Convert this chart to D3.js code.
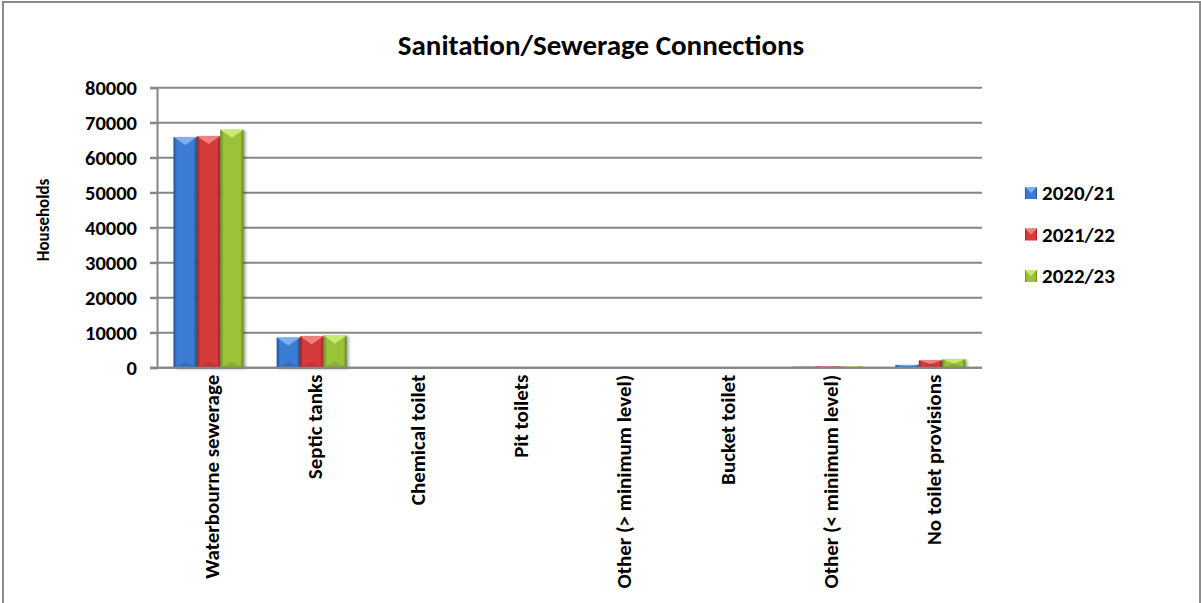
<!DOCTYPE html>
<html><head><meta charset="utf-8">
<script src="https://cdn.jsdelivr.net/npm/d3@7"></script>
<style>
html,body{margin:0;padding:0;background:#fff;}
svg{display:block;font-family:Carlito, Lato, "Liberation Sans", sans-serif;font-weight:bold;}
</style></head>
<body>
<svg id="chart" width="1201" height="603"></svg>
<script>
const categories = ["Waterbourne sewerage","Septic tanks","Chemical toilet","Pit toilets","Other (> minimum level)","Bucket toilet","Other (< minimum level)","No toilet provisions"];
const seriesNames = ["2020/21","2021/22","2022/23"];
const values2020 = [65900, 8600, 20, 0, 0, 80, 300, 800];
const values2021 = [66200, 9000, 20, 0, 0, 80, 400, 2100];
const values2022 = [68000, 9200, 20, 0, 0, 80, 400, 2400];
const yTicks = [0,10000,20000,30000,40000,50000,60000,70000,80000];
const colors = ["#3a7bd5","#d63b3b","#9bc23a"];
const darks = ["#23508f","#9a2424","#66861e"];
const lights = ["#86b6f0","#f28a8a","#cdee78"];

const seriesValues = [values2020, values2021, values2022];
const svg = d3.select("#chart");

// outer border
svg.append("rect").attr("x",3).attr("y",2).attr("width",1197).attr("height",610)
  .attr("fill","none").attr("stroke","#8c8c8c").attr("stroke-width",2);

const m = {left:157, right:982, top:87.7, bottom:367.7};
const x0 = d3.scaleBand().domain(categories).range([m.left,m.right]).paddingInner(0.32).paddingOuter(0.16);
const x1 = d3.scaleBand().domain(seriesNames).range([0,x0.bandwidth()]);
const y = d3.scaleLinear().domain([0,80000]).range([m.bottom,m.top]);

// gradients
const defs = svg.append("defs");
seriesNames.forEach((s,i)=>{
  const g = defs.append("linearGradient").attr("id","g"+i).attr("x1","0").attr("x2","1").attr("y1","0").attr("y2","0");
  g.append("stop").attr("offset","0%").attr("stop-color",darks[i]);
  g.append("stop").attr("offset","15%").attr("stop-color",colors[i]);
  g.append("stop").attr("offset","50%").attr("stop-color",colors[i]);
  g.append("stop").attr("offset","85%").attr("stop-color",colors[i]);
  g.append("stop").attr("offset","100%").attr("stop-color",darks[i]);
});
const sh = defs.append("filter").attr("id","shadow").attr("x","-20%").attr("y","-5%").attr("width","150%").attr("height","115%");
sh.append("feDropShadow").attr("dx",2).attr("dy",1).attr("stdDeviation",1.5).attr("flood-color","#000").attr("flood-opacity",0.35);

// gridlines
const grid = svg.append("g");
grid.selectAll("line").data(yTicks).join("line")
  .attr("x1",m.left-7).attr("x2",m.right).attr("y1",d=>y(d)).attr("y2",d=>y(d))
  .attr("stroke","#868686").attr("stroke-width",2);

// y axis
const yAxis = svg.append("g").attr("transform",`translate(${m.left},0)`)
  .call(d3.axisLeft(y).tickValues(yTicks).tickSize(7).tickPadding(13).tickFormat(d3.format("d")));
yAxis.select(".domain").attr("stroke","#868686").attr("stroke-width",2);
yAxis.selectAll(".tick line").attr("stroke","#868686").attr("stroke-width",2);
yAxis.selectAll("text").attr("font-size",20.5).attr("fill","#000").attr("font-family","Carlito, Lato, sans-serif").attr("font-weight","bold");

// bars
const groups = svg.append("g").selectAll("g").data(categories).join("g")
  .attr("transform",d=>`translate(${x0(d)},0)`);
seriesNames.forEach((s,i)=>{
  const bg = groups.append("g").datum((c,ci)=>({v:seriesValues[i][ci]}));
  bg.each(function(d){
    const gsel = d3.select(this);
    const bx = x1(s), bw = x1.bandwidth();
    const top = y(d.v), h = y(0)-y(d.v);
    if (h <= 0) return;
    gsel.append("rect").attr("x",bx).attr("y",top).attr("width",bw).attr("height",h)
      .attr("fill",`url(#g${i})`).attr("filter","url(#shadow)");
    const bev = Math.min(8, h/2);
    gsel.append("path")
      .attr("d",`M${bx},${top}L${bx+bw},${top}L${bx+bw/2},${top+bev}Z`)
      .attr("fill",lights[i]).attr("opacity",0.9);
    gsel.append("path")
      .attr("d",`M${bx},${y(0)}L${bx+bw},${y(0)}L${bx+bw/2},${y(0)-Math.min(6,h/2)}Z`)
      .attr("fill",darks[i]).attr("opacity",0.35);
  });
});

// baseline
svg.append("line").attr("x1",m.left-7).attr("x2",m.right).attr("y1",y(0)).attr("y2",y(0))
  .attr("stroke","#868686").attr("stroke-width",2);

// x axis labels
const xAxis = svg.append("g").attr("transform",`translate(0,${m.bottom})`)
  .call(d3.axisBottom(x0).tickSize(0).tickPadding(0));
xAxis.select(".domain").remove();
xAxis.selectAll("text")
  .attr("font-size",21).attr("fill","#000").attr("font-family","Carlito, Lato, sans-serif").attr("font-weight","bold")
  .attr("transform","rotate(-90)").attr("text-anchor","end")
  .attr("x",-7).attr("y",3).attr("dy","0.35em");

// title
svg.append("text").attr("x",601).attr("y",55).attr("text-anchor","middle")
  .attr("font-size",29).attr("fill","#000").text("Sanitation/Sewerage Connections");

// y title
svg.append("text").attr("transform","translate(49,220) rotate(-90)").attr("text-anchor","middle")
  .attr("font-size",17).attr("fill","#000").text("Households");

// legend
const lg = svg.append("g").selectAll("g").data(seriesNames).join("g")
  .attr("transform",(d,i)=>`translate(1025,${193 + i*41.5})`);
lg.append("rect").attr("x",0).attr("y",-6).attr("width",12).attr("height",12)
  .attr("fill",(d,i)=>`url(#g${i})`);
lg.append("path").attr("d","M0,-6L12,-6L6,0Z").attr("fill",(d,i)=>lights[i]).attr("opacity",0.9);
lg.append("text").attr("x",17).attr("y",0).attr("dy","0.35em").attr("font-size",21).attr("fill","#000").text(d=>d);
</script>
</body></html>
